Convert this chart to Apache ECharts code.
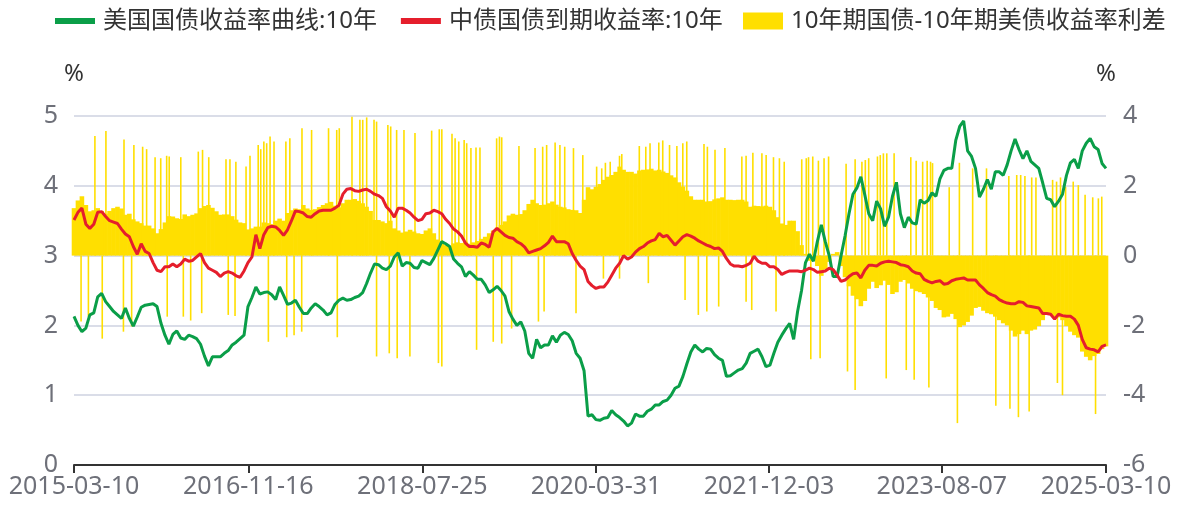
<!DOCTYPE html>
<html>
<head>
<meta charset="utf-8">
<script src="https://cdn.jsdelivr.net/npm/echarts@6/dist/echarts.min.js"></script>
<style>
  html, body { margin: 0; padding: 0; background: #ffffff; }
  #chart { width: 1178px; height: 507px; }
</style>
</head>
<body>
<div id="chart"></div>
<script>
// Sampling window: one observation roughly every two weeks between these dates
const startDate = '2015-03-10';
const endDate = '2025-03-10';

// Dates printed under the x axis
const tickDates = ['2015-03-10', '2016-11-16', '2018-07-25', '2020-03-31', '2021-12-03', '2023-08-07', '2025-03-10'];

// 10-year US Treasury yield, %
const usYield = [
  2.13,2.0,1.91,1.96,2.15,2.18,2.41,2.46,2.34,2.27,2.2,2.15,2.1,2.25,2.1,1.99,2.12,2.26,2.29,2.3,2.31,2.27,2.03,1.86,1.73,1.87,1.92,1.82,1.8,1.86,1.84,1.81,1.73,1.56,1.42,1.55,1.55,1.55,1.6,1.64,1.72,1.76,1.81,
  1.86,2.27,2.4,2.55,2.45,2.47,2.48,2.44,2.37,2.55,2.43,2.3,2.32,2.36,2.26,2.17,2.17,2.25,2.31,2.27,2.22,2.15,2.18,2.3,2.36,2.39,2.36,2.37,2.4,2.42,2.47,2.6,2.75,2.88,2.87,2.82,2.8,2.85,2.98,3.04,2.85,2.9,2.89,
  2.83,2.82,2.93,2.9,2.87,2.96,3.08,3.2,3.17,3.13,2.95,2.89,2.84,2.7,2.77,2.72,2.66,2.66,2.58,2.47,2.51,2.56,2.5,2.42,2.2,2.09,2.0,2.05,1.92,1.6,1.53,1.8,1.68,1.72,1.72,1.85,1.76,1.86,1.9,1.87,1.78,1.6,1.53,
  1.35,0.7,0.72,0.65,0.64,0.67,0.68,0.78,0.72,0.68,0.63,0.56,0.6,0.73,0.7,0.7,0.77,0.8,0.86,0.86,0.91,0.93,1.0,1.1,1.13,1.27,1.45,1.62,1.72,1.66,1.62,1.67,1.66,1.58,1.53,1.5,1.27,1.28,1.32,1.36,1.38,1.46,1.6,
  1.63,1.66,1.55,1.41,1.43,1.6,1.76,1.86,1.95,2.03,1.8,2.2,2.5,2.9,3.02,2.92,3.2,3.44,3.2,3.0,2.7,2.7,3.0,3.28,3.6,3.88,3.97,4.13,3.87,3.6,3.5,3.78,3.67,3.42,3.55,3.85,4.05,3.6,3.4,3.55,3.47,3.45,3.8,
  3.75,3.79,3.9,3.85,4.1,4.22,4.25,4.25,4.65,4.85,4.93,4.5,4.42,4.25,3.84,3.95,4.09,3.95,4.2,4.2,4.15,4.3,4.5,4.67,4.52,4.39,4.5,4.35,4.3,4.25,4.04,3.82,3.8,3.7,3.78,3.88,4.15,4.33,4.38,4.25,4.5,4.61,4.68,4.56,4.52,4.32,4.25
];

// 10-year China government bond yield (ChinaBond), %
const cnYield = [
  3.51,3.62,3.68,3.45,3.39,3.45,3.62,3.63,3.56,3.5,3.48,3.46,3.38,3.31,3.27,3.13,3.02,3.17,3.06,3.03,2.9,2.79,2.77,2.84,2.84,2.88,2.84,2.88,2.95,2.92,2.93,2.98,3.03,2.9,2.82,2.79,2.76,2.7,2.75,2.77,2.75,2.71,2.69,
  2.78,2.9,2.98,3.3,3.1,3.3,3.4,3.42,3.41,3.36,3.29,3.37,3.5,3.64,3.63,3.61,3.56,3.55,3.6,3.64,3.65,3.65,3.65,3.68,3.72,3.88,3.95,3.96,3.93,3.92,3.94,3.95,3.92,3.88,3.86,3.82,3.7,3.64,3.55,3.68,3.68,3.65,3.61,
  3.55,3.5,3.52,3.6,3.61,3.65,3.63,3.6,3.52,3.46,3.38,3.34,3.28,3.18,3.13,3.13,3.12,3.18,3.16,3.12,3.34,3.39,3.34,3.29,3.26,3.25,3.2,3.17,3.12,3.04,3.06,3.08,3.1,3.14,3.19,3.28,3.2,3.2,3.2,3.17,3.03,2.93,2.85,
  2.8,2.63,2.57,2.53,2.55,2.55,2.62,2.72,2.82,2.89,3.0,2.95,2.98,3.05,3.1,3.13,3.18,3.21,3.23,3.32,3.27,3.29,3.22,3.15,3.21,3.27,3.3,3.28,3.25,3.21,3.18,3.15,3.13,3.1,3.11,3.06,2.96,2.88,2.85,2.85,2.84,2.86,2.89,
  2.99,2.92,2.89,2.89,2.84,2.84,2.8,2.73,2.76,2.78,2.78,2.78,2.77,2.79,2.82,2.8,2.76,2.77,2.78,2.82,2.8,2.72,2.63,2.65,2.7,2.74,2.75,2.68,2.79,2.86,2.86,2.85,2.89,2.91,2.92,2.91,2.9,2.87,2.86,2.84,2.78,2.75,2.74,
  2.66,2.63,2.61,2.63,2.64,2.59,2.6,2.64,2.66,2.67,2.68,2.65,2.65,2.65,2.58,2.53,2.47,2.44,2.42,2.37,2.34,2.32,2.31,2.31,2.34,2.33,2.28,2.27,2.26,2.25,2.17,2.17,2.16,2.09,2.16,2.14,2.13,2.13,2.09,2.0,1.8,1.68,1.66,1.65,1.62,1.7,1.72
];

// China 10Y minus US 10Y spread, percentage points
const spread = [
  1.36,1.58,1.7,1.45,1.27,1.3,1.36,1.28,1.2,1.28,1.36,1.4,1.35,1.17,1.2,1.04,0.98,0.93,0.86,0.86,0.78,0.64,0.76,0.95,1.13,1.12,1.07,1.05,1.18,1.13,1.17,1.21,1.36,1.42,1.45,1.37,1.27,1.17,1.18,1.18,1.13,1.03,0.95,
  0.93,0.75,0.78,0.83,0.83,0.95,0.93,0.9,1.0,1.06,1.0,1.22,1.3,1.35,1.33,1.45,1.35,1.31,1.33,1.39,1.45,1.5,1.54,1.43,1.38,1.5,1.6,1.6,1.62,1.57,1.5,1.4,1.28,1.02,1.02,0.98,0.93,1.0,0.78,0.72,0.66,0.69,0.74,
  0.69,0.64,0.62,0.72,0.78,0.64,0.46,0.36,0.3,0.28,0.35,0.38,0.36,0.4,0.34,0.38,0.42,0.48,0.54,0.64,0.72,0.8,0.88,0.98,1.15,1.2,1.17,1.19,1.3,1.48,1.6,1.5,1.45,1.46,1.5,1.55,1.46,1.4,1.38,1.33,1.31,1.3,1.22,
  1.6,1.96,1.9,1.97,2.05,2.17,2.26,2.31,2.4,2.55,2.46,2.4,2.4,2.35,2.44,2.46,2.47,2.49,2.44,2.46,2.41,2.37,2.3,2.24,2.1,1.98,1.86,1.7,1.6,1.6,1.6,1.55,1.56,1.61,1.64,1.67,1.6,1.6,1.59,1.6,1.6,1.55,1.4,
  1.43,1.42,1.41,1.43,1.4,1.3,1.1,0.92,0.88,1.0,1.0,0.7,0.3,0.05,-0.15,-0.15,-0.3,-0.58,-0.4,-0.18,0.05,0.1,-0.3,-0.62,-0.88,-1.15,-1.25,-1.45,-1.3,-0.95,-0.75,-0.93,-0.85,-0.72,-0.84,-1.1,-1.05,-0.75,-0.7,-0.8,-0.95,-1.02,-1.05,
  -1.1,-1.2,-1.3,-1.5,-1.56,-1.77,-1.75,-1.67,-1.82,-2.05,-2.0,-1.9,-1.72,-1.5,-1.47,-1.58,-1.65,-1.68,-1.75,-1.85,-1.94,-2.0,-2.15,-2.32,-2.25,-2.15,-2.25,-2.15,-2.12,-2.02,-1.85,-1.7,-1.7,-1.78,-1.77,-1.85,-2.02,-2.18,-2.28,-2.35,-2.75,-2.9,-3.0,-2.88,-2.82,-2.68,-2.6
];

// Single-day spread readings on days when only one market traded: [days after start, value]
const spreadSpikes = [
  [74,3.43],[113,3.57],[177,3.33],[212,3.17],[243,3.12],[257,3.05],[287,2.82],[307,2.79],[328,2.86],[337,2.84],[378,2.82],[440,2.98],[455,3.03],[477,2.82],[538,2.76],[552,2.76],[573,2.69],
  [25,-1.89],[51,-1.75],[100,-2.38],[175,-2.18],[204,-2.03],[330,-1.75],[387,-1.75],[413,-1.86],[452,-1.65],[546,-1.7],[570,-1.73],
  [609,2.55],[623,2.86],[652,3.17],[661,3.05],[672,3.27],[682,3.22],[694,3.41],[708,3.27],[750,3.27],[764,3.36],[807,3.65],[841,3.6],[901,3.65],[930,3.6],[939,3.65],[984,3.98],[1012,3.89],[1022,3.89],[1036,3.96],[1062,3.89],[1071,3.84],[1111,3.74],[1121,3.7],[1142,3.6],[1168,3.6],
  [688,-2.47],[753,-2.34],[779,-2.28],[806,-2.18],[932,-2.34],[1071,-2.89],[1116,-2.8],[1144,-2.94],[1189,-2.89],
  [1207,3.51],[1266,3.58],[1293,3.62],[1302,3.62],[1338,3.49],[1349,3.36],[1362,3.27],[1381,3.31],[1390,3.22],[1405,3.08],[1423,3.1],[1437,3.1],[1496,3.36],[1506,3.41],[1514,3.39],[1575,3.14],[1632,3.08],[1659,3.12],[1673,3.17],[1703,3.24],[1720,3.17],[1737,3.12],[1768,3.08],
  [1290,-3.08],[1302,-3.18],[1425,-2.7],[1484,-2.47],[1514,-2.52],[1549,-2.09],[1644,-1.89],[1664,-1.6],[1777,-1.65],
  [1801,2.88],[1850,2.55],[1868,2.5],[1881,2.66],[1898,2.69],[1931,2.86],[1939,2.91],[2001,3.14],[2024,3.12],[2039,3.22],[2070,3.24],[2084,3.3],[2108,3.17],[2134,3.14],[2155,3.22],[2169,3.27],[2230,3.2],[2242,3.12],[2269,3.03],[2304,3.08],[2364,2.84],[2379,2.86],
  [1874,-0.66],[1931,-0.66],[2033,-0.79],[2163,-1.27],[2210,-1.7],[2240,-1.6],[2282,-1.46],[2379,-1.32],
  [2403,2.95],[2435,2.93],[2450,2.88],[2476,2.82],[2497,2.79],[2514,2.69],[2576,2.76],[2592,2.79],[2600,2.82],[2615,2.84],[2635,2.72],[2655,2.79],[2671,2.84],[2733,2.63],[2765,2.76],[2789,2.69],[2801,2.74],[2813,2.79],[2844,2.84],[2854,2.88],[2865,2.93],[2877,2.93],[2903,2.93],[2962,2.82],[2981,2.72],
  [2399,-1.56],[2485,-1.6],[2608,-2.97],[2641,-2.94],[2738,-3.32],[2765,-3.85],[2875,-3.52],[2946,-3.28],[2974,-3.56],
  [3004,2.69],[3020,2.72],[3032,2.69],[3039,2.65],[3098,1.96],[3134,2.66],[3181,2.5],[3230,2.5],[3309,2.28],[3337,2.31],[3351,2.31],[3366,2.28],[3390,2.24],[3405,2.24],[3464,2.17],[3478,2.12],[3492,2.24],[3510,1.97],[3537,2.12],[3555,2.02],[3579,1.74],[3606,1.67],[3626,1.64],[3638,1.69],
  [3026,-3.78],[3127,-4.8],[3263,-4.3],[3313,-4.39],[3343,-4.63],[3381,-4.47],[3481,-3.65],[3499,-4.0],[3616,-4.54]
];

const US_NAME = '美国国债收益率曲线:10年';
const CN_NAME = '中债国债到期收益率:10年';
const SPREAD_NAME = '10年期国债-10年期美债收益率利差';

const DAY = 86400000;
function toTime(s) {
  const [y, m, d] = s.split('-').map(Number);
  return Date.UTC(y, m - 1, d);
}
function fmtDate(v) {
  const d = new Date(v);
  const p = x => String(x).padStart(2, '0');
  return d.getUTCFullYear() + '-' + p(d.getUTCMonth() + 1) + '-' + p(d.getUTCDate());
}

const t0 = toTime(startDate);
const t1 = toTime(endDate);
const n = usYield.length;
const times = usYield.map((_, i) => t0 + (t1 - t0) * i / (n - 1));
const withTime = arr => arr.map((v, i) => [times[i], v]);
const tickTimes = tickDates.map(toTime);
const spikeData = spreadSpikes.map(([d, v]) => [t0 + d * DAY, v]);

const FONT = "'Noto Sans', 'Noto Sans CJK SC', sans-serif";
const YELLOW = '#FFDF00';
const GREEN = '#0A9E48';
const RED = '#E51E2C';
const LABEL_GREY = '#6E7079';

const chart = echarts.init(document.getElementById('chart'), null, { renderer: 'canvas' });

const legendText = { fontSize: 24, color: '#333333', fontFamily: FONT, padding: [0, 0, 0, 3] };

chart.setOption({
  animation: false,
  backgroundColor: '#ffffff',
  textStyle: { fontFamily: FONT },
  legend: [
    {
      left: 50, top: 4,
      itemWidth: 40, itemHeight: 6, itemGap: 24,
      icon: 'rect',
      data: [US_NAME, CN_NAME],
      textStyle: legendText
    },
    {
      left: 738, top: 4,
      itemWidth: 40, itemHeight: 17,
      icon: 'rect',
      data: [SPREAD_NAME],
      textStyle: legendText
    }
  ],
  grid: { left: 74, right: 72, top: 116, bottom: 42 },
  xAxis: [
    {
      type: 'value',
      min: t0, max: t1,
      axisLine: { onZero: false, lineStyle: { color: '#333333', width: 2 } },
      axisTick: { show: true, customValues: tickTimes, length: 8, lineStyle: { color: '#333333', width: 2 } },
      axisLabel: {
        customValues: tickTimes,
        formatter: fmtDate,
        fontSize: 25, color: LABEL_GREY, margin: 9, fontFamily: FONT
      },
      splitLine: { show: false }
    },
    { type: 'value', min: t0, max: t1, show: false, splitLine: { show: false } }
  ],
  yAxis: [
    {
      type: 'value', min: 0, max: 5, interval: 1,
      name: '%', nameLocation: 'end', nameGap: 30,
      nameTextStyle: { fontSize: 24, color: '#333333', fontFamily: FONT },
      axisLine: { show: false }, axisTick: { show: false },
      axisLabel: { fontSize: 25, color: LABEL_GREY, margin: 16, fontFamily: FONT },
      splitLine: { lineStyle: { color: '#DADDE8', width: 2 } }
    },
    {
      type: 'value', min: -6, max: 4, interval: 2, position: 'right',
      name: '%', nameLocation: 'end', nameGap: 30,
      nameTextStyle: { fontSize: 24, color: '#333333', fontFamily: FONT },
      axisLine: { show: false }, axisTick: { show: false },
      axisLabel: { fontSize: 25, color: LABEL_GREY, margin: 17, fontFamily: FONT },
      splitLine: { show: false }
    }
  ],
  series: [
    {
      name: SPREAD_NAME, type: 'bar',
      xAxisIndex: 0, yAxisIndex: 1,
      data: withTime(spread),
      barWidth: 4.6,
      itemStyle: { color: YELLOW },
      z: 1
    },
    {
      name: SPREAD_NAME, type: 'bar',
      xAxisIndex: 1, yAxisIndex: 1,
      data: spikeData,
      barWidth: 1.6,
      itemStyle: { color: YELLOW },
      z: 1
    },
    {
      name: US_NAME, type: 'line',
      xAxisIndex: 0, yAxisIndex: 0,
      data: withTime(usYield),
      showSymbol: false, symbol: 'none',
      lineStyle: { color: GREEN, width: 3 },
      itemStyle: { color: GREEN },
      z: 3
    },
    {
      name: CN_NAME, type: 'line',
      xAxisIndex: 0, yAxisIndex: 0,
      data: withTime(cnYield),
      showSymbol: false, symbol: 'none',
      lineStyle: { color: RED, width: 3 },
      itemStyle: { color: RED },
      z: 4
    }
  ]
});
</script>
</body>
</html>
